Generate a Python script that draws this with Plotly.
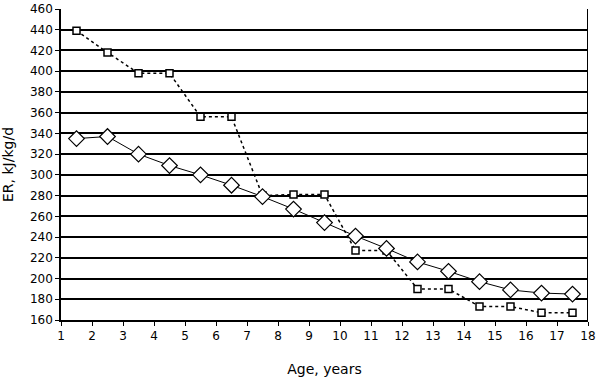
import plotly.graph_objects as go

age = [1.5, 2.5, 3.5, 4.5, 5.5, 6.5, 7.5, 8.5, 9.5, 10.5, 11.5, 12.5, 13.5, 14.5, 15.5, 16.5, 17.5]
er_squares = [439, 418, 398, 398, 356, 356, 280, 281, 281, 227, 227, 190, 190, 173, 173, 167, 167]
er_diamonds = [335, 337, 320, 309, 300, 290, 279, 267, 254, 241, 229, 216, 207, 197, 189, 186, 185]

x_ticks = list(range(1, 19))
y_ticks = list(range(160, 461, 20))

fig = go.Figure()
fig.add_trace(go.Scatter(
    x=age, y=er_squares, mode="lines+markers",
    line=dict(color="black", width=1.5, dash="dot"),
    marker=dict(symbol="square", size=7, color="white", line=dict(color="black", width=1.5)),
    showlegend=False))
fig.add_trace(go.Scatter(
    x=age, y=er_diamonds, mode="lines+markers",
    line=dict(color="black", width=1),
    marker=dict(symbol="diamond", size=12, color="white", line=dict(color="black", width=1.2)),
    showlegend=False))

fig.update_layout(
    width=599, height=381,
    margin=dict(l=61, r=11, t=9, b=61),
    plot_bgcolor="white", paper_bgcolor="white",
    font=dict(family="DejaVu Sans", size=12, color="black"),
)
fig.update_xaxes(
    range=[1, 18], tickvals=x_ticks, showgrid=False, automargin=False,
    showline=True, linecolor="black", linewidth=1.5, mirror=False,
    ticks="outside", ticklen=4, tickcolor="black",
    title=dict(text="Age, years", standoff=22), zeroline=False)
fig.update_yaxes(
    range=[160, 460], tickvals=y_ticks, showgrid=True, gridcolor="black", gridwidth=1.5,
    showline=True, linecolor="black", linewidth=1.5, automargin=False,
    ticks="outside", ticklen=4, tickcolor="black",
    title=dict(text="ER, kJ/kg/d", standoff=13), zeroline=False)
fig.add_shape(type="line", xref="x", yref="paper", x0=18, x1=18, y0=0, y1=1,
              line=dict(color="black", width=2))

fig.write_html("out.html", config={"displayModeBar": False},
               post_script="document.body.style.margin='0';document.body.style.overflow='hidden';")
